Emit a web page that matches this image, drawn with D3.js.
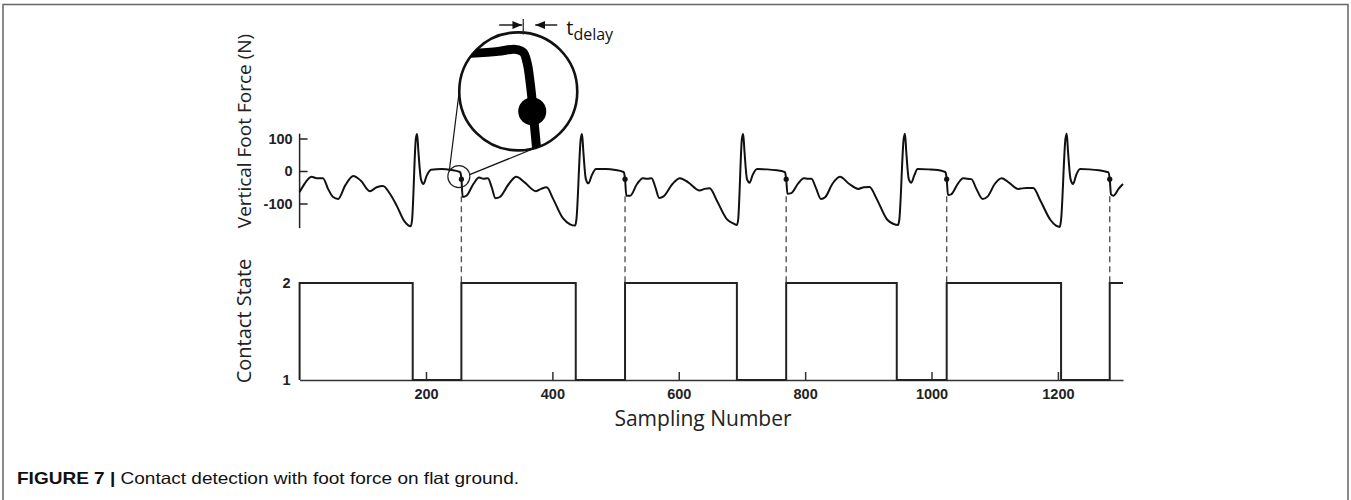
<!DOCTYPE html>
<html>
<head>
<meta charset="utf-8">
<script src="https://cdn.jsdelivr.net/npm/d3@7"></script>
<style>
    body { margin: 0; background: #fff; }
    svg { display: block; }
</style>
</head>
<body>
<svg></svg>
<script>
// vertical foot force, one array per stride, [sample, N]
const stride0 = [[0,-65],[6,-45],[19,-18],[27,-22],[37,-22],[45,-55],[53,-80],[61,-86],[72,-45],[85,-15],[97,-30],[111,-62],[122,-50],[132,-46],[143,-70],[154,-108],[166,-155],[176,-170],[178,-150],[184,100],[186,114],[188,60],[192,-25],[196,-40],[201,-15],[208,4],[225,6],[240,3],[252,-2],[254,-4]];
const stride1 = [[256,-22],[258,-80],[264,-76],[275,-40],[284,-20],[291,-24],[298,-22],[304,-50],[310,-84],[317,-80],[331,-40],[343,-18],[356,-35],[374,-62],[382,-55],[391,-50],[401,-85],[417,-146],[428,-164],[436,-168],[438,-150],[445,100],[447,114],[449,60],[453,-25],[457,-38],[462,-15],[469,6],[485,6],[500,3],[511,-2],[513,-4]];
const stride2 = [[515,-25],[517,-76],[523,-76],[534,-40],[543,-22],[550,-24],[557,-22],[563,-50],[569,-83],[576,-78],[590,-40],[602,-22],[615,-35],[633,-60],[641,-55],[649,-53],[660,-90],[676,-148],[687,-162],[692,-166],[694,-150],[700,100],[702,114],[704,60],[708,-25],[712,-36],[717,-12],[724,6],[740,5],[755,2],[766,-2],[768,-4]];
const stride3 = [[770,-25],[772,-70],[778,-68],[789,-38],[798,-22],[805,-24],[810,-24],[817,-52],[825,-86],[832,-80],[843,-40],[855,-18],[870,-40],[884,-55],[893,-50],[902,-49],[913,-85],[930,-150],[940,-163],[947,-166],[949,-150],[956,100],[958,115],[960,60],[964,-25],[968,-36],[973,-12],[978,6],[995,5],[1010,3],[1020,-2],[1022,-4]];
const stride4 = [[1024,-25],[1026,-74],[1031,-72],[1042,-38],[1050,-22],[1057,-24],[1063,-25],[1071,-55],[1081,-86],[1089,-78],[1100,-40],[1111,-22],[1124,-38],[1137,-55],[1150,-52],[1161,-52],[1172,-90],[1188,-150],[1197,-168],[1203,-172],[1205,-150],[1212,100],[1214,115],[1216,60],[1220,-25],[1224,-40],[1229,-12],[1235,6],[1250,5],[1265,2],[1278,-3],[1280,-4]];
const stride5 = [[1282,-25],[1284,-72],[1288,-76],[1296,-55],[1303,-40]];

// touchdown (detected contact) and lift-off samples
const touchdowns = [256, 515, 770, 1024, 1282];
const stanceStart = [0, 256, 515, 770, 1024, 1282];
const stanceEnd = [179, 437, 692, 945, 1205];

const xTicks = [200, 400, 600, 800, 1000, 1200];
const forceTicks = [100, 0, -100];
const stateTicks = [1, 2];

// magnified view: thick trace drawn inside the big circle, offsets from its centre
const insetTrace = [[-48,-38],[-20,-40],[-3,-42],[5,-39],[9,-28],[12,-8],[14,10],[16,32],[19,64]];
const insetDot = [14, 20];

const width = 1351, height = 500;
const svg = d3.select("svg").attr("width", width).attr("height", height);

// figure frame
svg.append("path")
    .attr("d", "M3,500 V4.5 H1348 V500")
    .attr("fill", "none")
    .attr("stroke", "#666")
    .attr("stroke-width", 1.5);

const x = d3.scaleLinear().domain([0, 1303]).range([299.6, 1123]);
const yF = d3.scaleLinear().domain([-100, 100]).range([203.5, 138.5]);
const yS = d3.scaleLinear().domain([1, 2]).range([380, 283]);

const force = stride0.concat(stride1, stride2, stride3, stride4, stride5);

const tickFont = "'Liberation Sans', Arial, sans-serif";
const plain = d => String(d).replace("\u2212", "-");

// force axis
svg.append("line")
    .attr("x1", x(0)).attr("x2", x(0))
    .attr("y1", yF(115)).attr("y2", yF(-176))
    .attr("stroke", "#222").attr("stroke-width", 1.5);

const fAxis = svg.append("g")
    .attr("transform", `translate(${x(0)},0)`)
    .call(d3.axisLeft(yF).tickValues(forceTicks).tickFormat(plain).tickSizeInner(-8).tickSizeOuter(0).tickPadding(7));
fAxis.select(".domain").remove();
fAxis.selectAll("line").attr("stroke", "#222").attr("stroke-width", 1.5);
fAxis.selectAll("text")
    .attr("font-family", tickFont).attr("font-weight", "bold")
    .attr("font-size", 14.5).attr("fill", "#222");

// state axis labels
const sAxis = svg.append("g")
    .attr("transform", `translate(${x(0)},0)`)
    .call(d3.axisLeft(yS).tickValues(stateTicks).tickFormat(plain).tickSize(0).tickPadding(9));
sAxis.select(".domain").remove();
sAxis.selectAll("text")
    .attr("font-family", tickFont).attr("font-weight", "bold")
    .attr("font-size", 14.5).attr("fill", "#222");

// sample axis
const xAxis = svg.append("g")
    .attr("transform", `translate(0,${yS(1)})`)
    .call(d3.axisBottom(x).tickValues(xTicks).tickFormat(plain).tickSizeInner(-8).tickSizeOuter(0).tickPadding(9));
xAxis.select(".domain").attr("stroke", "#333").attr("stroke-width", 1.5);
xAxis.selectAll("line").attr("stroke", "#333").attr("stroke-width", 1.5);
xAxis.selectAll("text")
    .attr("font-family", tickFont).attr("font-weight", "bold")
    .attr("font-size", 14.5).attr("fill", "#222");

// dashed guides from touchdown to contact state
svg.selectAll(".guide")
    .data(touchdowns)
    .enter()
    .append("line")
    .attr("class", "guide")
    .attr("x1", d => x(d)).attr("x2", d => x(d))
    .attr("y1", yF(-78)).attr("y2", yS(2))
    .attr("stroke", "#555")
    .attr("stroke-width", 1.4)
    .attr("stroke-dasharray", "6,4");

// force curve
const forceLine = d3.line()
    .x(d => x(d[0]))
    .y(d => yF(d[1]))
    .curve(d3.curveMonotoneX);

svg.append("path")
    .datum(force)
    .attr("d", forceLine)
    .attr("fill", "none")
    .attr("stroke", "#111")
    .attr("stroke-width", 2)
    .attr("stroke-linejoin", "round");

svg.selectAll(".td")
    .data(touchdowns)
    .enter()
    .append("circle")
    .attr("class", "td")
    .attr("cx", d => x(d))
    .attr("cy", yF(-25))
    .attr("r", 2.6)
    .attr("fill", "#111");

// contact state square wave
const state = [[0, 1]];
stanceStart.forEach((s, i) => {
    state.push([s, 2]);
    if (i < stanceEnd.length) state.push([stanceEnd[i], 1]);
});
state.push([1303, 2]);

svg.append("path")
    .datum(state)
    .attr("d", d3.line().x(d => x(d[0])).y(d => yS(d[1])).curve(d3.curveStepAfter))
    .attr("fill", "none")
    .attr("stroke", "#222")
    .attr("stroke-width", 2);

// magnifier
const small = { cx: x(252), cy: yF(-17), r: 11 };
const big = { cx: x(346), cy: yF(245), r: 59 };

const onCircle = (c, deg) => [c.cx + c.r * Math.cos(deg * Math.PI / 180), c.cy + c.r * Math.sin(deg * Math.PI / 180)];
const links = [[onCircle(small, -150), onCircle(big, 180)], [onCircle(small, -10), onCircle(big, 72)]];

svg.selectAll(".link")
    .data(links)
    .enter()
    .append("line")
    .attr("class", "link")
    .attr("x1", d => d[0][0]).attr("y1", d => d[0][1])
    .attr("x2", d => d[1][0]).attr("y2", d => d[1][1])
    .attr("stroke", "#111")
    .attr("stroke-width", 1.2);

svg.append("circle")
    .attr("cx", small.cx).attr("cy", small.cy).attr("r", small.r)
    .attr("fill", "none").attr("stroke", "#222").attr("stroke-width", 1.2);

svg.append("clipPath").attr("id", "lens")
    .append("circle").attr("cx", big.cx).attr("cy", big.cy).attr("r", big.r);

svg.append("circle")
    .attr("cx", big.cx).attr("cy", big.cy).attr("r", big.r)
    .attr("fill", "#fff").attr("stroke", "#111").attr("stroke-width", 2.6);

const lens = svg.append("g").attr("clip-path", "url(#lens)");
lens.append("path")
    .datum(insetTrace)
    .attr("d", d3.line().x(d => big.cx + d[0]).y(d => big.cy + d[1]).curve(d3.curveCatmullRom.alpha(0.5)))
    .attr("fill", "none")
    .attr("stroke", "#000")
    .attr("stroke-width", 9)
    .attr("stroke-linejoin", "round");
lens.append("circle")
    .attr("cx", big.cx + insetDot[0]).attr("cy", big.cy + insetDot[1])
    .attr("r", 14).attr("fill", "#000");

// t_delay marker
const tx = big.cx + 5, ty = 25;
svg.append("line")
    .attr("x1", tx).attr("x2", tx).attr("y1", 19).attr("y2", big.cy - big.r + 2)
    .attr("stroke", "#222").attr("stroke-width", 1.2);

const defs = svg.append("defs");
defs.append("marker")
    .attr("id", "head")
    .attr("viewBox", "0 0 10 10")
    .attr("refX", 10).attr("refY", 5)
    .attr("markerWidth", 7).attr("markerHeight", 7)
    .attr("orient", "auto")
    .append("path").attr("d", "M0,1 L10,5 L0,9 Z").attr("fill", "#111");

svg.append("line")
    .attr("x1", tx - 24).attr("x2", tx - 1).attr("y1", ty).attr("y2", ty)
    .attr("stroke", "#111").attr("stroke-width", 1.4).attr("marker-end", "url(#head)");
svg.append("line")
    .attr("x1", tx + 34).attr("x2", tx + 12).attr("y1", ty).attr("y2", ty)
    .attr("stroke", "#111").attr("stroke-width", 1.4).attr("marker-end", "url(#head)");

const tl = svg.append("text")
    .attr("x", tx + 43).attr("y", 35)
    .attr("font-family", "'Open Sans', sans-serif")
    .attr("font-size", 20)
    .attr("fill", "#111");
tl.append("tspan").text("t");
tl.append("tspan").attr("dy", 5).attr("font-size", 16).text("delay");

// axis titles
const titleFont = "'Open Sans', sans-serif";
svg.append("text")
    .attr("transform", "translate(251,131) rotate(-90)")
    .attr("text-anchor", "middle")
    .attr("font-family", titleFont).attr("font-size", 19).attr("fill", "#222")
    .text("Vertical Foot Force (N)");
svg.append("text")
    .attr("transform", "translate(251,321) rotate(-90)")
    .attr("text-anchor", "middle")
    .attr("font-family", titleFont).attr("font-size", 20).attr("fill", "#222")
    .text("Contact State");
svg.append("text")
    .attr("x", 703).attr("y", 426)
    .attr("text-anchor", "middle")
    .attr("font-family", titleFont).attr("font-size", 21).attr("fill", "#222")
    .text("Sampling  Number");

// caption
const cap = svg.append("text")
    .attr("x", 17).attr("y", 484)
    .attr("font-family", "'Liberation Sans', Arial, sans-serif")
    .attr("font-size", 16.5)
    .attr("fill", "#111")
    .attr("textLength", 502)
    .attr("lengthAdjust", "spacingAndGlyphs");
cap.append("tspan").attr("font-weight", "bold").text("FIGURE 7 | ");
cap.append("tspan").text("Contact detection with foot force on flat ground.");
</script>
</body>
</html>
